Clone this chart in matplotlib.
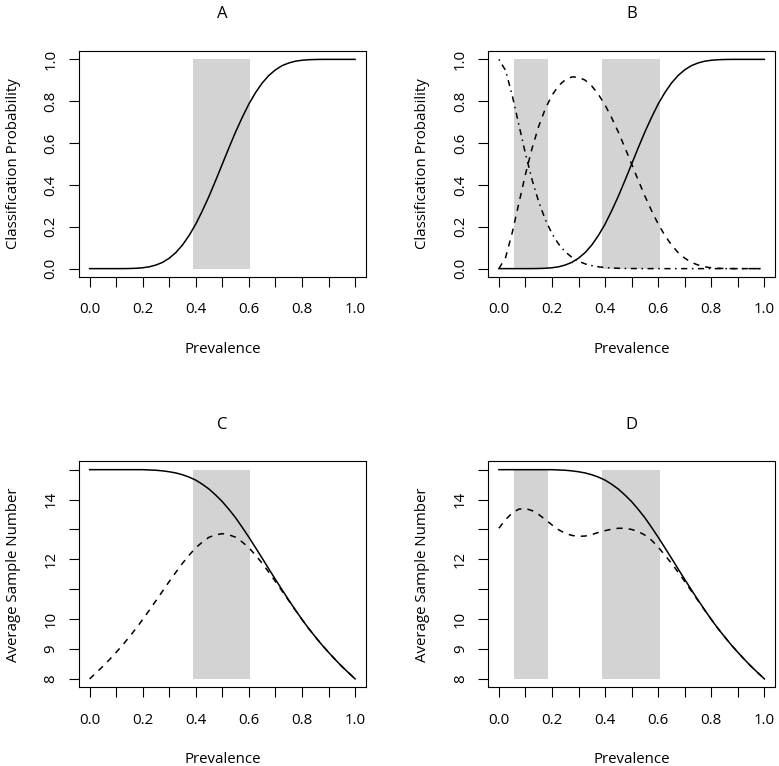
import matplotlib.pyplot as plt

plt.rcParams['font.family'] = ['Open Sans', 'DejaVu Sans']

# Data: prevalence grid and curves
prevalence = [0.0, 0.025, 0.05, 0.075, 0.1, 0.125, 0.15, 0.175, 0.2, 0.225,
              0.25, 0.275, 0.3, 0.325, 0.35, 0.375, 0.4, 0.425, 0.45, 0.475,
              0.5, 0.525, 0.55, 0.575, 0.6, 0.625, 0.65, 0.675, 0.7, 0.725,
              0.75, 0.775, 0.8, 0.825, 0.85, 0.875, 0.9, 0.925, 0.95, 0.975, 1.0]

# A / B: probability of classifying as "high"
prob_high = [0, 0, 0, 0, 0, 0.0001, 0.0006, 0.0017, 0.0042, 0.0088,
             0.0173, 0.0300, 0.0500, 0.0770, 0.1132, 0.1590, 0.2131, 0.2770, 0.3465, 0.4220,
             0.5000, 0.5780, 0.6535, 0.7230, 0.7869, 0.8410, 0.8868, 0.9230, 0.9500, 0.9700,
             0.9827, 0.9912, 0.9958, 0.9983, 0.9994, 0.9999, 1, 1, 1, 1, 1]

# B: probability of classifying as "low" (dot-dash) and "medium" (dashed)
prob_low = [1.0, 0.9472, 0.8290, 0.6882, 0.5490, 0.4242, 0.3186, 0.2334, 0.1671, 0.1170,
            0.0802, 0.0538, 0.0353, 0.0226, 0.0142, 0.0087, 0.0052, 0.0030, 0.0017, 0.0009,
            0.0005, 0.0002, 0.0001, 0, 0, 0, 0, 0, 0, 0,
            0, 0, 0, 0, 0, 0, 0, 0, 0, 0, 0]
prob_mid = [0, 0.0528, 0.1710, 0.3118, 0.4510, 0.5757, 0.6808, 0.7649, 0.8287, 0.8742,
            0.9025, 0.9162, 0.9147, 0.9004, 0.8726, 0.8323, 0.7817, 0.7200, 0.6518, 0.5771,
            0.4995, 0.4218, 0.3464, 0.2770, 0.2131, 0.1590, 0.1132, 0.0770, 0.0500, 0.0300,
            0.0173, 0.0088, 0.0042, 0.0017, 0.0006, 0.0001, 0, 0, 0, 0, 0]

# C / D: average sample number
asn_solid = [15.0, 15.0, 15.0, 15.0, 15.0, 15.0, 15.0, 15.0, 15.0, 14.99,
             14.98, 14.96, 14.93, 14.89, 14.83, 14.75, 14.65, 14.51, 14.35, 14.15,
             13.93, 13.67, 13.39, 13.07, 12.74, 12.39, 12.04, 11.68, 11.33, 10.98,
             10.64, 10.31, 9.99, 9.69, 9.41, 9.14, 8.89, 8.65, 8.42, 8.21, 8.0]
asn_c_dashed = [8.00, 8.21, 8.42, 8.65, 8.89, 9.14, 9.41, 9.69, 9.99, 10.30,
                10.62, 10.94, 11.26, 11.57, 11.87, 12.14, 12.39, 12.58, 12.74, 12.82,
                12.86, 12.82, 12.74, 12.58, 12.39, 12.14, 11.87, 11.57, 11.26, 10.94,
                10.62, 10.30, 9.99, 9.69, 9.41, 9.14, 8.89, 8.65, 8.42, 8.21, 8.00]
asn_d_dashed = [13.04, 13.33, 13.55, 13.68, 13.70, 13.63, 13.50, 13.33, 13.15, 12.99,
                12.87, 12.80, 12.77, 12.78, 12.83, 12.90, 12.96, 13.01, 13.04, 13.04,
                13.00, 12.93, 12.81, 12.64, 12.41, 12.14, 11.87, 11.57, 11.26, 10.94,
                10.62, 10.30, 9.99, 9.69, 9.41, 9.14, 8.89, 8.65, 8.42, 8.21, 8.00]

bands_one = [(0.39, 0.605)]
bands_two = [(0.055, 0.186), (0.39, 0.605)]

x_ticks = [0.0, 0.1, 0.2, 0.3, 0.4, 0.5, 0.6, 0.7, 0.8, 0.9, 1.0]
x_labels = ['0.0', '', '0.2', '', '0.4', '', '0.6', '', '0.8', '', '1.0']
p_ticks = [0.0, 0.2, 0.4, 0.6, 0.8, 1.0]
p_labels = ['0.0', '0.2', '0.4', '0.6', '0.8', '1.0']
n_ticks = [8, 9, 10, 11, 12, 13, 14, 15]
n_labels = ['8', '9', '10', '', '12', '', '14', '']

GRAY = '#D3D3D3'
DASHED = (0, (4, 4))
DOTDASH = (0, (1, 3, 4, 3))

W, H = 779, 766
fig = plt.figure(figsize=(W / 100, H / 100), dpi=100)


def make_axes(left, top, title, ylabel, yticks, ylabels, ylim):
    ax = fig.add_axes([left / W, 1 - (top + 226) / H, 286.7 / W, 226 / H])
    ax.set_xlim(-0.04, 1.04)
    ax.set_ylim(*ylim)
    ax.set_xticks(x_ticks)
    ax.set_xticklabels(x_labels)
    ax.set_yticks(yticks)
    ax.set_yticklabels(ylabels, rotation=90, va='center')
    ax.tick_params(direction='out', length=7.2, width=0.8, labelsize=10.8, colors='black')
    ax.tick_params(axis='x', pad=11)
    ax.tick_params(axis='y', pad=7.5)
    for s in ax.spines.values():
        s.set_linewidth(0.8)
    ax.set_title(title, fontsize=12, pad=23.5)
    ax.set_xlabel('Prevalence', fontsize=10.8, va='center')
    ax.xaxis.set_label_coords(0.5, -72.5 / 226)
    ax.set_ylabel(ylabel, fontsize=10.8, va='center')
    ax.yaxis.set_label_coords(-65.5 / 286.7, 0.5)
    return ax


def shade(ax, bands, lo, hi):
    for a, b in bands:
        ax.fill_between([a, b], lo, hi, color=GRAY, lw=0, zorder=1)


lw = 1.1

# Panel A
ax = make_axes(79, 51, 'A', 'Classification Probability', p_ticks, p_labels, (-0.04, 1.04))
shade(ax, bands_one, 0, 1)
ax.plot(prevalence, prob_high, color='black', lw=lw, zorder=3)

# Panel B
ax = make_axes(488.3, 51, 'B', 'Classification Probability', p_ticks, p_labels, (-0.04, 1.04))
shade(ax, bands_two, 0, 1)
ax.plot(prevalence, prob_high, color='black', lw=lw, zorder=3)
ax.plot(prevalence, prob_mid, color='black', lw=lw, ls=DASHED, zorder=3)
ax.plot(prevalence, prob_low, color='black', lw=lw, ls=DOTDASH, zorder=3)

# Panel C
ax = make_axes(79, 461.3, 'C', 'Average Sample Number', n_ticks, n_labels, (7.72, 15.28))
shade(ax, bands_one, 8, 15)
ax.plot(prevalence, asn_solid, color='black', lw=lw, zorder=3)
ax.plot(prevalence, asn_c_dashed, color='black', lw=lw, ls=DASHED, zorder=3)

# Panel D
ax = make_axes(488.3, 461.3, 'D', 'Average Sample Number', n_ticks, n_labels, (7.72, 15.28))
shade(ax, bands_two, 8, 15)
ax.plot(prevalence, asn_solid, color='black', lw=lw, zorder=3)
ax.plot(prevalence, asn_d_dashed, color='black', lw=lw, ls=DASHED, zorder=3)

fig.savefig('out.png', dpi=100)
